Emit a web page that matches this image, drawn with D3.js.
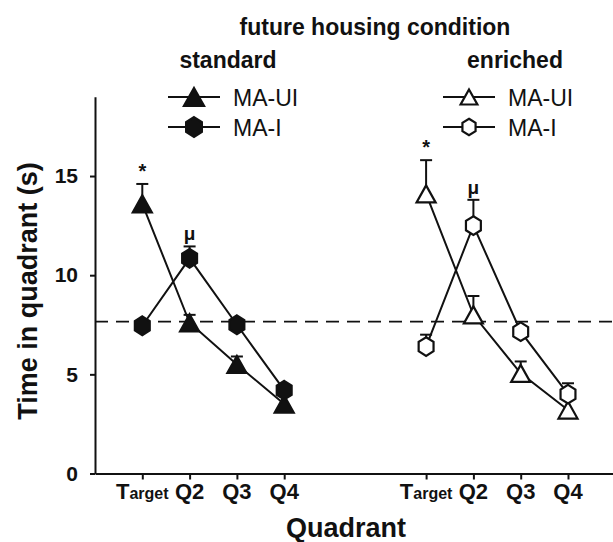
<!DOCTYPE html>
<html lang="en">
    <head>
        <meta charset="utf-8">
        <title>Time in quadrant</title>
        <script src="https://d3js.org/d3.v7.min.js"></script>
        <style type="text/css">
          body{
            margin: 0;
            background: #fff;
          }
          svg{
            display: block;
            font-family: "Liberation Sans", Arial, Helvetica, sans-serif;
          }
          .axis path, .axis line{
            stroke: #111;
            stroke-width: 2px;
          }
        </style>
    </head>
    <body>
        <script type="text/javascript">

        const w = 613;
        const h = 542;

        // data
        const quadrants = ["Target", "Q2", "Q3", "Q4"];
        const yTicks = [0, 5, 10, 15];
        const chance = 7.66;

        const stdUI = [13.6, 7.6, 5.5, 3.5];
        const stdUIerr = [1.0, 0.4, 0.4, 0];
        const stdI = [7.45, 10.85, 7.5, 4.2];
        const stdIerr = [0, 0.6, 0, 0];

        const enrUI = [14.1, 8.0, 5.05, 3.2];
        const enrUIerr = [1.7, 0.95, 0.6, 0];
        const enrI = [6.4, 12.5, 7.15, 4.0];
        const enrIerr = [0.6, 1.3, 0, 0.55];

        const series = [
          {vals: stdUI, err: stdUIerr, off: 0, shape: "tri", filled: true},
          {vals: stdI, err: stdIerr, off: 0, shape: "hex", filled: true},
          {vals: enrUI, err: enrUIerr, off: 6, shape: "tri", filled: false},
          {vals: enrI, err: enrIerr, off: 6, shape: "hex", filled: false}
        ];

        // annotation marks: slot on the x axis, value it sits above, text
        const notes = [
          {slot: 0, val: 13.6 + 1.0, txt: "*"},
          {slot: 1, val: 10.85 + 0.6, txt: "μ"},
          {slot: 6, val: 14.1 + 1.7, txt: "*"},
          {slot: 7, val: 12.5 + 1.3, txt: "μ"}
        ];

        const x = d3.scaleLinear().domain([-1, 10]).range([95, 615.3]);
        const y = d3.scaleLinear().domain([0, 19]).range([473.5, 96.7]);

        const svg = d3.select("body").append("svg")
          .attr("width", w)
          .attr("height", h);

        //marker paths
        function triPath(s){
          const hw = s * 0.56, hh = s * 0.5;
          return `M0,${-hh}L${hw},${hh}L${-hw},${hh}Z`;
        }
        function hexPath(r){
          const pts = d3.range(6).map(k => {
            const a = Math.PI / 3 * k - Math.PI / 2;
            return [r * 0.92 * Math.cos(a), r * Math.sin(a)];
          });
          return "M" + pts.map(p => p.join(",")).join("L") + "Z";
        }
        function marker(g, shape, filled, size){
          g.append("path")
            .attr("d", shape === "tri" ? triPath(size) : hexPath(size * 0.55))
            .attr("fill", filled ? "#111" : "#fff")
            .attr("stroke", "#111")
            .attr("stroke-width", 2.2);
        }

        // axes
        svg.append("g")
          .attr("class", "axis")
          .attr("transform", "translate(95,0)")
          .call(d3.axisLeft(y).tickValues(yTicks).tickSize(5).tickSizeOuter(0).tickPadding(12))
          .call(g => g.selectAll("text")
            .attr("font-size", 21)
            .attr("font-weight", "bold")
            .attr("font-family", "Liberation Sans, Arial, sans-serif")
            .attr("fill", "#111"));

        const xSlots = quadrants.map((q, i) => i).concat(quadrants.map((q, i) => i + 6));
        svg.append("g")
          .attr("class", "axis")
          .attr("transform", "translate(0,473.5)")
          .call(d3.axisBottom(x).tickValues(xSlots).tickSize(6).tickSizeOuter(0).tickFormat(""));

        // x tick labels
        xSlots.forEach((s, k) => {
          const q = quadrants[k % 4];
          const t = svg.append("text")
            .attr("x", x(s))
            .attr("y", 498.5)
            .attr("text-anchor", "middle")
            .attr("font-weight", "bold")
            .attr("font-size", 22)
            .attr("fill", "#111");
          if (q === "Target") {
            t.append("tspan").text("T");
            t.append("tspan").attr("font-size", 16).text("arget");
          } else {
            t.text(q);
          }
        });

        // chance line
        svg.append("line")
          .attr("x1", 95).attr("x2", w)
          .attr("y1", y(chance)).attr("y2", y(chance))
          .attr("stroke", "#111")
          .attr("stroke-width", 1.8)
          .attr("stroke-dasharray", "13,8");

        // error bars (upper only)
        series.forEach(s => {
          s.vals.forEach((v, i) => {
            if (!s.err[i]) return;
            const cx = x(i + s.off), top = y(v + s.err[i]);
            svg.append("line")
              .attr("x1", cx).attr("x2", cx)
              .attr("y1", y(v)).attr("y2", top)
              .attr("stroke", "#111").attr("stroke-width", 2);
            svg.append("line")
              .attr("x1", cx - 6).attr("x2", cx + 6)
              .attr("y1", top).attr("y2", top)
              .attr("stroke", "#111").attr("stroke-width", 2);
          });
        });

        // lines
        const line = d3.line().x(d => x(d[0])).y(d => y(d[1]));
        series.forEach(s => {
          svg.append("path")
            .datum(s.vals.map((v, i) => [i + s.off, v]))
            .attr("d", line)
            .attr("fill", "none")
            .attr("stroke", "#111")
            .attr("stroke-width", 2);
        });

        // markers
        series.forEach(s => {
          s.vals.forEach((v, i) => {
            const g = svg.append("g")
              .attr("transform", `translate(${x(i + s.off)},${y(v)})`);
            marker(g, s.shape, s.filled, 17);
          });
        });

        // significance marks
        notes.forEach(n => {
          svg.append("text")
            .attr("x", x(n.slot))
            .attr("y", y(n.val) - 6)
            .attr("text-anchor", "middle")
            .attr("font-weight", "bold")
            .attr("font-size", n.txt === "*" ? 20 : 19)
            .attr("fill", "#111")
            .text(n.txt);
        });

        // headings
        svg.append("text")
          .attr("x", 375).attr("y", 35)
          .attr("text-anchor", "middle")
          .attr("font-weight", "bold").attr("font-size", 23)
          .attr("fill", "#111")
          .text("future housing condition");
        svg.append("text")
          .attr("x", 228).attr("y", 68)
          .attr("text-anchor", "middle")
          .attr("font-weight", "bold").attr("font-size", 23)
          .attr("fill", "#111")
          .text("standard");
        svg.append("text")
          .attr("x", 515).attr("y", 68)
          .attr("text-anchor", "middle")
          .attr("font-weight", "bold").attr("font-size", 23)
          .attr("fill", "#111")
          .text("enriched");

        // legends
        const legend = [
          {x0: 168, y0: 97, name: "MA-UI", shape: "tri", filled: true},
          {x0: 168, y0: 127, name: "MA-I", shape: "hex", filled: true},
          {x0: 443, y0: 97, name: "MA-UI", shape: "tri", filled: false},
          {x0: 443, y0: 127, name: "MA-I", shape: "hex", filled: false}
        ];
        legend.forEach(l => {
          svg.append("line")
            .attr("x1", l.x0).attr("x2", l.x0 + 52)
            .attr("y1", l.y0).attr("y2", l.y0)
            .attr("stroke", "#111").attr("stroke-width", 2);
          const g = svg.append("g").attr("transform", `translate(${l.x0 + 26},${l.y0})`);
          marker(g, l.shape, l.filled, l.filled ? 18 : 15);
          svg.append("text")
            .attr("x", l.x0 + 65).attr("y", l.y0 + 8.5)
            .attr("font-size", 23)
            .attr("fill", "#111")
            .text(l.name);
        });

        // axis titles
        svg.append("text")
          .attr("transform", "translate(37,291) rotate(-90)")
          .attr("text-anchor", "middle")
          .attr("font-weight", "bold").attr("font-size", 27)
          .attr("fill", "#111")
          .text("Time in quadrant (s)");
        svg.append("text")
          .attr("x", 346).attr("y", 537)
          .attr("text-anchor", "middle")
          .attr("font-weight", "bold").attr("font-size", 27)
          .attr("fill", "#111")
          .text("Quadrant");

        </script>
    </body>
</html>
